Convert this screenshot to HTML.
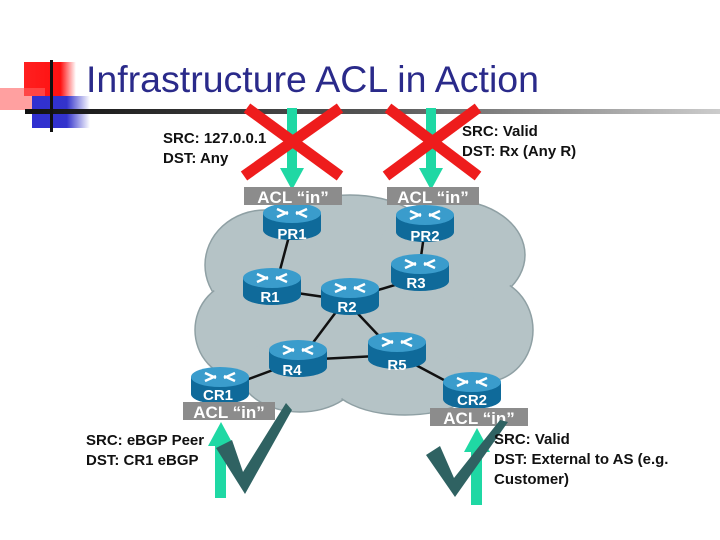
<!DOCTYPE html>
<html><head><meta charset="utf-8"><style>
body{margin:0;background:#fff}
svg{display:block}
text{font-family:"Liberation Sans",Arial,sans-serif}
</style></head><body>
<svg width="720" height="540" viewBox="0 0 720 540" xmlns="http://www.w3.org/2000/svg">
<defs>
<linearGradient id="hl" x1="0" x2="1"><stop offset="0" stop-color="#111"/><stop offset="0.5" stop-color="#555"/><stop offset="1" stop-color="#ccc"/></linearGradient>
<linearGradient id="rd" x1="0" x2="1"><stop offset="0" stop-color="#ff2020"/><stop offset="0.7" stop-color="#ff1010"/><stop offset="1" stop-color="#fff"/></linearGradient>
<linearGradient id="bl" x1="0" x2="1"><stop offset="0" stop-color="#3030d0"/><stop offset="0.6" stop-color="#3333cc"/><stop offset="1" stop-color="#fff"/></linearGradient>
<g id="rtr">
<path d="M-29,0 v17 a29,10 0 0 0 58,0 v-17 z" fill="#0f6a9a"/>
<ellipse cx="0" cy="0" rx="29" ry="10" fill="#3a9ccc"/>
<path d="M-15,-4 l11,5 M15,-4 l-11,5 M-15,4 l11,-5 M15,4 l-11,-5" stroke="#fff" stroke-width="2.5"/>
</g>
</defs>
<!-- logo -->
<rect x="24" y="62" width="52" height="34" fill="url(#rd)"/>
<rect x="0" y="88" width="45" height="22" fill="#ff6060" opacity="0.6"/>
<rect x="32" y="96" width="58" height="32" fill="url(#bl)"/>
<rect x="25" y="109" width="695" height="5" fill="url(#hl)"/>
<rect x="50" y="60" width="3" height="72" fill="#111"/>
<text x="86" y="92" font-size="37.5" fill="#2a2a8a">Infrastructure ACL in Action</text>
<!-- cloud -->
<g fill="#b5c3c6" stroke="#8fa0a4" stroke-width="1.5">
<ellipse cx="265" cy="265" rx="60" ry="55"/>
<ellipse cx="350" cy="245" rx="85" ry="50"/>
<ellipse cx="450" cy="255" rx="75" ry="55"/>
<ellipse cx="485" cy="330" rx="48" ry="52"/>
<ellipse cx="240" cy="330" rx="45" ry="48"/>
<ellipse cx="300" cy="372" rx="60" ry="40"/>
<ellipse cx="405" cy="380" rx="75" ry="35"/>
</g>
<g fill="#b5c3c6">
<ellipse cx="265" cy="265" rx="58" ry="53"/>
<ellipse cx="350" cy="245" rx="83" ry="48"/>
<ellipse cx="450" cy="255" rx="73" ry="53"/>
<ellipse cx="485" cy="330" rx="46" ry="50"/>
<ellipse cx="240" cy="330" rx="43" ry="46"/>
<ellipse cx="300" cy="372" rx="58" ry="38"/>
<ellipse cx="405" cy="380" rx="73" ry="33"/>
<ellipse cx="360" cy="310" rx="115" ry="72"/>
</g>
<!-- links -->
<g stroke="#111" stroke-width="2.5">
<line x1="292" y1="225" x2="276" y2="285"/>
<line x1="276" y1="290" x2="345" y2="300"/>
<line x1="345" y1="300" x2="418" y2="278"/>
<line x1="418" y1="278" x2="425" y2="228"/>
<line x1="345" y1="300" x2="300" y2="360"/>
<line x1="345" y1="300" x2="397" y2="355"/>
<line x1="300" y1="360" x2="397" y2="355"/>
<line x1="300" y1="360" x2="219" y2="390"/>
<line x1="397" y1="355" x2="472" y2="395"/>
</g>
<!-- routers -->
<g font-size="15" font-weight="bold" fill="#fff" text-anchor="middle">
<use href="#rtr" x="292" y="213"/><text x="292" y="239">PR1</text>
<use href="#rtr" x="425" y="215"/><text x="425" y="241">PR2</text>
<use href="#rtr" x="272" y="278"/><text x="270" y="302">R1</text>
<use href="#rtr" x="420" y="264"/><text x="416" y="288">R3</text>
<use href="#rtr" x="350" y="288"/><text x="347" y="312">R2</text>
<use href="#rtr" x="298" y="350"/><text x="292" y="375">R4</text>
<use href="#rtr" x="397" y="342"/><text x="397" y="370">R5</text>
<use href="#rtr" x="220" y="377"/><text x="218" y="400">CR1</text>
<use href="#rtr" x="472" y="382"/><text x="472" y="405">CR2</text>
</g>
<!-- top arrows & X -->
<g fill="#1fd8a4">
<rect x="287" y="108" width="10" height="62"/><polygon points="280,168 304,168 292,190"/>
<rect x="426" y="108" width="10" height="62"/><polygon points="419,168 443,168 431,190"/>
</g>
<g stroke="#ee1c1c" stroke-width="11">
<line x1="247" y1="108" x2="340" y2="176"/><line x1="340" y1="108" x2="244" y2="176"/>
<line x1="388" y1="108" x2="478" y2="176"/><line x1="478" y1="108" x2="386" y2="176"/>
</g>
<!-- ACL labels -->
<g fill="#8c8c8c">
<rect x="244" y="187" width="98" height="18"/><rect x="387" y="187" width="92" height="18"/>
<rect x="183" y="402" width="92" height="18"/><rect x="430" y="408" width="98" height="18"/>
</g>
<g font-size="17" font-weight="bold" fill="#fff" text-anchor="middle">
<text x="293" y="203">ACL “in”</text><text x="433" y="203">ACL “in”</text>
<text x="229" y="418">ACL “in”</text><text x="479" y="424">ACL “in”</text>
</g>
<!-- bottom arrows -->
<g fill="#1fd8a4">
<rect x="215" y="444" width="11" height="54"/><polygon points="208,446 234,446 221,422"/>
<rect x="471" y="450" width="11" height="55"/><polygon points="464,452 490,452 477,428"/>
</g>
<g fill="#2f6262">
<polygon points="216,448 232,440 243,472 286,403 292,410 245,494"/>
<polygon points="426,455 440,446 454,478 500,420 508,422 455,497"/>
</g>
<!-- texts -->
<g font-size="15" font-weight="bold" fill="#111">
<text x="163" y="143">SRC: 127.0.0.1</text><text x="163" y="163">DST: Any</text>
<text x="462" y="136">SRC: Valid</text><text x="462" y="156">DST: Rx (Any R)</text>
<text x="86" y="445">SRC: eBGP Peer</text><text x="86" y="465">DST: CR1 eBGP</text>
<text x="494" y="444">SRC: Valid</text><text x="494" y="464">DST: External to AS (e.g.</text><text x="494" y="484">Customer)</text>
</g>
</svg>
</body></html>
